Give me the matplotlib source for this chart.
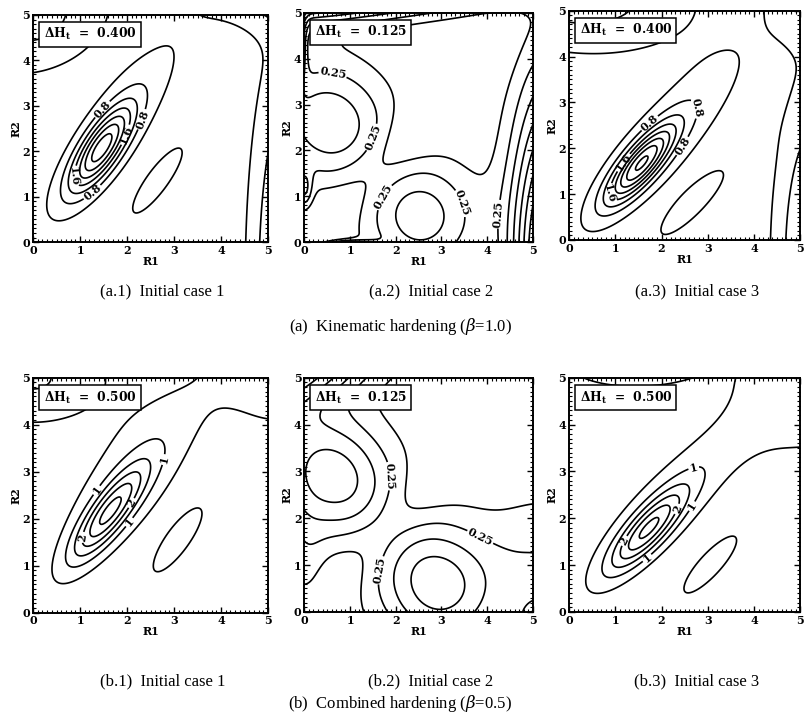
import numpy as np
import matplotlib
matplotlib.use("Agg")
import matplotlib.pyplot as plt
from matplotlib.ticker import MultipleLocator

plt.rcParams["mathtext.fontset"] = "dejavuserif"

# Each panel = background level + a few elongated bumps
# bump: centre (cx, cy), height (negative = valley), sigma along / across its axis, axis angle [deg]

# (a.1) kinematic, initial case 1
a1Base = 0.05
a1Cx   = [1.45, 1.75, 2.65, 0.00, 5.45, 5.10]
a1Cy   = [2.05, 2.55, 1.35, 5.00, -1.0, 5.40]
a1Amp  = [2.40, 0.65, 0.50, 0.90, 1.50, 0.70]
a1Sa   = [0.75, 1.75, 1.00, 1.20, 3.50, 1.10]
a1Sb   = [0.26, 0.45, 0.26, 0.90, 0.55, 0.55]
a1Ang  = [58,   55,   55,   20,   90,   0]

# (a.2) kinematic, initial case 2
a2Base = 0.02
a2Cx   = [0.55, 2.55, 2.00, 5.40, 0.80, -0.10, 0.00, 1.00]
a2Cy   = [2.60, 0.55, 2.00, -0.5, 5.55, 4.35, 1.15, -0.10]
a2Amp  = [0.45, 0.42, -0.15, 1.20, 1.10, 0.50, 0.30, 0.80]
a2Sa   = [1.00, 0.85, 2.20, 2.60, 3.50, 0.55, 0.30, 0.40]
a2Sb   = [0.90, 0.85, 0.40, 0.60, 0.45, 0.10, 0.12, 0.08]
a2Ang  = [-45,  -45,  45,   90,   6,    90,   90,   0]

# (a.3) kinematic, initial case 3
a3Base = 0.05
a3Cx   = [1.55, 2.05, 2.67, 0.20, 5.35, 5.35]
a3Cy   = [1.65, 2.20, 0.80, 5.35, -0.5, 5.35]
a3Amp  = [2.60, 0.70, 0.50, 0.95, 1.40, 0.70]
a3Sa   = [0.75, 1.75, 1.05, 1.80, 2.60, 0.70]
a3Sb   = [0.24, 0.50, 0.28, 0.90, 0.60, 0.70]
a3Ang  = [50,   48,   46,   -5,   90,   90]

# (b.1) combined, initial case 1
b1Base = 0.05
b1Cx   = [1.60, 2.10, 3.08, 0.00, 5.20]
b1Cy   = [2.10, 2.90, 1.53, 5.00, 5.30]
b1Amp  = [2.40, 0.90, 0.70, 1.00, 0.80]
b1Sa   = [0.85, 1.60, 0.82, 1.20, 1.00]
b1Sb   = [0.25, 0.60, 0.24, 0.75, 1.10]
b1Ang  = [53,   53,   54,   0,    0]

# (b.2) combined, initial case 2
b2Base = 0.03
b2Cx   = [0.60, 2.90, 1.90, 5.30, -0.20, 5.20, 0.05]
b2Cy   = [2.90, 0.60, 1.90, 1.20, 5.40, -0.2, 0.90]
b2Amp  = [0.55, 0.55, -0.12, 0.20, 0.80, 0.50, 0.12]
b2Sa   = [1.00, 1.00, 2.00, 0.90, 2.50, 0.35, 0.80]
b2Sb   = [0.88, 0.90, 0.40, 0.90, 0.70, 0.35, 0.30]
b2Ang  = [-40,  -45,  45,   0,    30,   0,    90]

# (b.3) combined, initial case 3
b3Base = 0.05
b3Cx   = [1.70, 2.20, 3.05, 5.40, 1.40]
b3Cy   = [1.75, 2.40, 1.00, 4.80, 5.30]
b3Amp  = [2.40, 0.80, 0.70, 0.85, 0.80]
b3Sa   = [0.80, 1.80, 0.83, 1.30, 1.30]
b3Sb   = [0.25, 0.50, 0.24, 1.00, 0.45]
b3Ang  = [47,   45,   47,   35,   0]

dH       = [0.400, 0.125, 0.400, 0.500, 0.125, 0.500]
lblLvls  = [[0.8, 1.6], [0.25], [0.8, 1.6], [1.0, 2.0], [0.25], [1.0, 2.0]]
lblFmt   = ["%.1f", "%.2f", "%.1f", "%g", "%.2f", "%g"]
subCapts = ["(a.1)  Initial case 1", "(a.2)  Initial case 2", "(a.3)  Initial case 3",
            "(b.1)  Initial case 1", "(b.2)  Initial case 2", "(b.3)  Initial case 3"]
rowCapts = [r"(a)  Kinematic hardening ($\beta$=1.0)", r"(b)  Combined hardening ($\beta$=0.5)"]

# where the contour labels sit (data coords)
lblPos = [[(1.5, 2.9), (2.45, 2.65), (1.3, 1.05), (2.0, 2.35), (0.8, 1.45)],
          [(0.6, 3.55), (1.45, 2.3), (1.7, 1.0), (3.45, 0.85), (4.35, 0.6)],
          [(1.68, 2.62), (2.95, 2.9), (2.37, 2.1), (0.78, 1.0), (1.3, 1.6)],
          [(1.39, 2.58), (2.81, 3.25), (2.03, 1.94), (2.1, 2.33), (1.07, 1.6)],
          [(1.9, 2.9), (1.6, 0.9), (3.9, 1.7)],
          [(2.69, 3.1), (2.72, 2.22), (1.68, 1.16), (2.33, 2.2), (1.29, 1.47)]]

# axes rects in figure fraction
axRects = [[0.041, 0.661, 0.292, 0.318], [0.378, 0.661, 0.284, 0.321], [0.707, 0.664, 0.287, 0.321],
           [0.041, 0.142, 0.292, 0.329], [0.378, 0.143, 0.284, 0.328], [0.707, 0.143, 0.287, 0.328]]


def BumpField(R1, R2, base, cx, cy, amp, sa, sb, ang):
  H = np.full(R1.shape, base)
  for i in range(len(cx)):
    t  = np.deg2rad(ang[i])
    dx = R1 - cx[i]
    dy = R2 - cy[i]
    u  =  dx*np.cos(t) + dy*np.sin(t)
    v  = -dx*np.sin(t) + dy*np.cos(t)
    H += amp[i]*np.exp(-0.5*((u/sa[i])**2 + (v/sb[i])**2))
  return H


def StyleAxes(ax):
  ax.set_xlim(0, 5)
  ax.set_ylim(0, 5)
  for a in [ax.xaxis, ax.yaxis]:
    a.set_major_locator(MultipleLocator(1))
    a.set_minor_locator(MultipleLocator(0.1))
  ax.tick_params(which="both", direction="in", top=True, right=True)
  ax.tick_params(which="major", length=4, width=1.0, pad=2)
  ax.tick_params(which="minor", length=2.5, width=0.8)
  for lb in ax.get_xticklabels() + ax.get_yticklabels():
    lb.set_fontfamily("DejaVu Serif")
    lb.set_fontweight("bold")
    lb.set_fontsize(8)
  for sp in ax.spines.values():
    sp.set_linewidth(1.4)
  ax.set_xlabel("R1", fontfamily="DejaVu Serif", fontweight="bold", fontsize=8, labelpad=0)
  ax.set_ylabel("R2", fontfamily="DejaVu Serif", fontweight="bold", fontsize=8, labelpad=1)
  return


grid = np.linspace(0, 5, 251)
R1, R2 = np.meshgrid(grid, grid)

fields = [BumpField(R1, R2, a1Base, a1Cx, a1Cy, a1Amp, a1Sa, a1Sb, a1Ang),
          BumpField(R1, R2, a2Base, a2Cx, a2Cy, a2Amp, a2Sa, a2Sb, a2Ang),
          BumpField(R1, R2, a3Base, a3Cx, a3Cy, a3Amp, a3Sa, a3Sb, a3Ang),
          BumpField(R1, R2, b1Base, b1Cx, b1Cy, b1Amp, b1Sa, b1Sb, b1Ang),
          BumpField(R1, R2, b2Base, b2Cx, b2Cy, b2Amp, b2Sa, b2Sb, b2Ang),
          BumpField(R1, R2, b3Base, b3Cx, b3Cy, b3Amp, b3Sa, b3Sb, b3Ang)]

fig = plt.figure(figsize=(8.05, 7.14), dpi=100)

for iP in range(6):
  ax = fig.add_axes(axRects[iP])
  H  = fields[iP]
  lv = dH[iP]*np.arange(1, int(H.max()/dH[iP]) + 2)
  isLbl = np.array([np.any(np.isclose(l, lblLvls[iP])) for l in lv])
  # plain lines, then the labelled levels as their own set so clabel can break them
  ax.contour(R1, R2, H, levels=lv[~isLbl], colors="black", linewidths=1.2)
  cs = ax.contour(R1, R2, H, levels=lv[isLbl], colors="black", linewidths=1.2)
  txts = ax.clabel(cs, inline=True, fmt=lblFmt[iP], fontsize=8, inline_spacing=2, manual=lblPos[iP])
  for t in txts:
    t.set_fontfamily("DejaVu Serif")
    t.set_fontweight("bold")
  StyleAxes(ax)
  ax.text(0.045, 0.915, str.format(r"$\mathbf{{\Delta H_t}}$  =  {:.3f}", dH[iP]), transform=ax.transAxes,
          fontfamily="DejaVu Serif", fontweight="bold", fontsize=8.8, va="center", ha="left",
          bbox=dict(boxstyle="square,pad=0.35", fc="white", ec="black", lw=1.1))
  x0, y0, w, h = axRects[iP]
  capY = 0.592 if iP < 3 else 0.045
  fig.text(x0 + w/2 + 0.015, capY, subCapts[iP], fontfamily="Liberation Serif", fontsize=12, ha="center", va="center")

fig.text(0.497, 0.543, rowCapts[0], fontfamily="Liberation Serif", fontsize=12, ha="center", va="center")
fig.text(0.497, 0.015, rowCapts[1], fontfamily="Liberation Serif", fontsize=12, ha="center", va="center")

fig.savefig("out.png", dpi=100)
